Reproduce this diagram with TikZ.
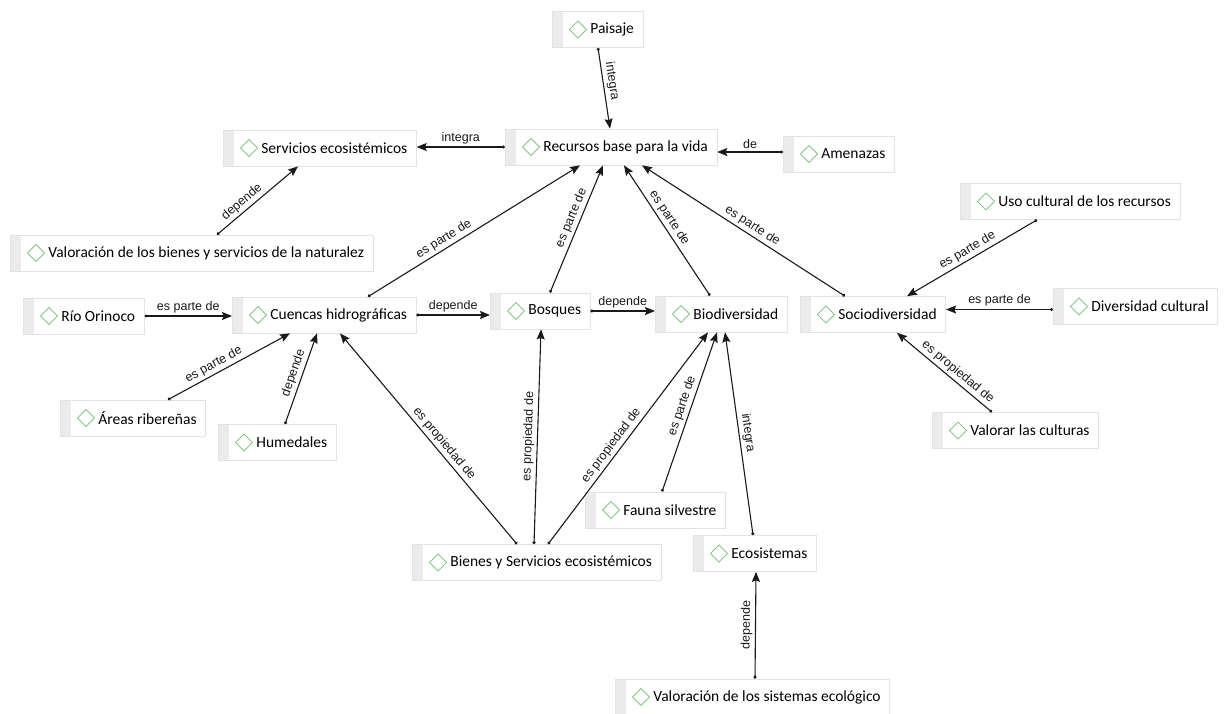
\documentclass[tikz,border=0pt]{standalone}
\usepackage{fontspec}
\setmainfont{Carlito}
\newfontfamily\lblfam{Liberation Sans}
\usetikzlibrary{arrows.meta}
\definecolor{boxline}{HTML}{E2E2E2}
\definecolor{stripgray}{HTML}{EBEBEB}
\definecolor{icongreen}{HTML}{86C886}
\definecolor{linecol}{HTML}{1A1A1A}
\tikzset{
  concept/.style={draw=boxline, fill=white, line width=.7pt, anchor=west,
    minimum height=36pt, inner xsep=9pt, inner ysep=0pt,
    font=\fontsize{15.5}{18}\selectfont, execute at begin node={\hspace*{29pt}},
    path picture={\fill[stripgray] (path picture bounding box.north west)
      rectangle ([xshift=11pt]path picture bounding box.south west);}},
  rel/.style={draw=linecol, line width=1.1pt, arrows={Circle[length=3pt]-Stealth[length=10pt,width=8pt,inset=1.5pt]}},
  lbl/.style={sloped, above, inner sep=2.5pt, text=linecol, font=\lblfam\fontsize{12.5}{14}\selectfont},
  icon/.style={draw=icongreen, line width=.9pt}
}
\begin{document}
\begin{tikzpicture}[x=1pt,y=-1pt]
  \fill[white] (0,0) rectangle (1225,713);
  \useasboundingbox (0,0) rectangle (1225,713);
  % concepts
  \node[concept] (paisaje) at (552,29.5) {Paisaje};
  \node[concept] (recursos) at (505,147) {Recursos base para la vida};
  \node[concept] (servicios) at (223,148) {Servicios ecosistémicos};
  \node[concept] (amenazas) at (783,154) {Amenazas};
  \node[concept] (valbienes) at (10,253) {Valoración de los bienes y servicios de la naturalez};
  \node[concept] (uso) at (960,201.5) {Uso cultural de los recursos};
  \node[concept] (orinoco) at (23,316) {Río Orinoco};
  \node[concept] (cuencas) at (232,315) {Cuencas hidrográficas};
  \node[concept] (bosques) at (490,311) {Bosques};
  \node[concept] (biodiv) at (655,314) {Biodiversidad};
  \node[concept] (sociodiv) at (800,314.5) {Sociodiversidad};
  \node[concept] (divcult) at (1053,306.5) {Diversidad cultural};
  \node[concept] (riberas) at (60,418) {Áreas ribereñas};
  \node[concept] (humedales) at (218,442.5) {Humedales};
  \node[concept] (valorar) at (932,430.5) {Valorar las culturas};
  \node[concept] (fauna) at (585,510) {Fauna silvestre};
  \node[concept] (bienes) at (412,562.5) {Bienes y Servicios ecosistémicos};
  \node[concept] (ecosist) at (693,553.5) {Ecosistemas};
  \node[concept] (valsist) at (615,697) {Valoración de los sistemas ecológico};
  \foreach \n in {paisaje,recursos,servicios,amenazas,valbienes,uso,orinoco,cuencas,bosques,
      biodiv,sociodiv,divcult,riberas,humedales,valorar,fauna,bienes,ecosist,valsist}
    \draw[icon] ([xshift=26pt]\n.west) +(-8.5,0) -- +(0,8.5) -- +(8.5,0) -- +(0,-8.5) -- cycle;
  % relations
  \draw[rel] ([xshift=46pt]paisaje.south west) -- node[lbl,pos=.43] {integra} ([xshift=105pt]recursos.north west);
  \draw[rel] (recursos.west) -- node[lbl] {integra} (recursos.west -| servicios.east);
  \draw[rel] ([yshift=2pt]amenazas.west) -- node[lbl] {de} ([yshift=2pt]amenazas.west -| recursos.east);
  \draw[rel] ([xshift=207pt]valbienes.north west) -- node[lbl,pos=.38] {depende} ([xshift=75pt]servicios.south west);
  \draw[rel] ([xshift=136pt]cuencas.north west) -- node[lbl,pos=.38] {es parte de} ([xshift=75pt]recursos.south west);
  \draw[rel] ([xshift=60pt]bosques.north west) -- node[lbl,pos=.56] {es parte de} ([xshift=98pt]recursos.south west);
  \draw[rel] ([xshift=55pt]biodiv.north west) -- node[lbl,pos=.56] {es parte de} ([xshift=119pt]recursos.south west);
  \draw[rel] ([xshift=45pt]sociodiv.north west) -- node[lbl,pos=.48] {es parte de} ([xshift=137pt]recursos.south west);
  \draw[rel] ([xshift=77pt]uso.south west) -- node[lbl] {es parte de} ([xshift=107pt]sociodiv.north west);
  \draw[rel] ([yshift=-3pt]divcult.west) -- node[lbl] {es parte de} ([yshift=-3pt]divcult.west -| sociodiv.east);
  \draw[rel] ([xshift=60pt]valorar.north west) -- node[lbl,pos=.42] {es propiedad de} ([xshift=97pt]sociodiv.south west);
  \draw[rel] (orinoco.east) -- node[lbl] {es parte de} (orinoco.east -| cuencas.west);
  \draw[rel] ([xshift=108pt]riberas.north west) -- node[lbl,pos=.41] {es parte de} ([xshift=58pt]cuencas.south west);
  \draw[rel] ([xshift=67pt]humedales.north west) -- node[lbl,pos=.53] {depende} ([xshift=85pt]cuencas.south west);
  \draw[rel] (cuencas.east) -- node[lbl] {depende} (cuencas.east -| bosques.west);
  \draw[rel] (bosques.east) -- node[lbl] {depende} (bosques.east -| biodiv.west);
  \draw[rel] ([xshift=105pt]bienes.north west) -- node[lbl,pos=.45] {es propiedad de} ([xshift=108pt]cuencas.south west);
  \draw[rel] ([xshift=122pt]bienes.north west) -- node[lbl] {es propiedad de} ([xshift=51pt]bosques.south west);
  \draw[rel] ([xshift=136pt]bienes.north west) -- node[lbl,pos=.44] {es propiedad de} ([xshift=53pt]biodiv.south west);
  \draw[rel] ([xshift=77pt]fauna.north west) -- node[lbl,pos=.52] {es parte de} ([xshift=62pt]biodiv.south west);
  \draw[rel] ([xshift=60pt]ecosist.north west) -- node[lbl] {integra} ([xshift=70pt]biodiv.south west);
  \draw[rel] ([xshift=140pt]valsist.north west) -- node[lbl] {depende} ([xshift=63pt]ecosist.south west);
\end{tikzpicture}
\end{document}
